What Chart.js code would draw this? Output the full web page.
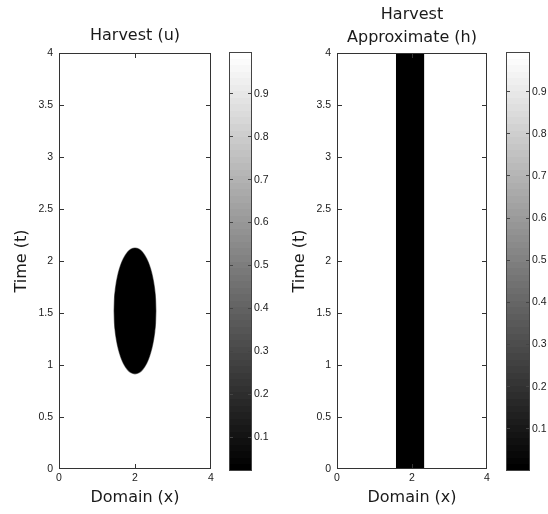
<!DOCTYPE html>
<html><head><meta charset="utf-8">
<script src="https://cdn.jsdelivr.net/npm/chart.js@4.4.1/dist/chart.umd.min.js"></script>
<style>
html,body{margin:0;padding:0;background:#fff;width:548px;height:514px;overflow:hidden;}
canvas{position:absolute;top:0;}
</style></head><body>
<canvas id="uMain" width="228" height="514" style="left:0px"></canvas>
<canvas id="uBar" width="52" height="514" style="left:222px"></canvas>
<canvas id="hMain" width="230" height="514" style="left:274px"></canvas>
<canvas id="hBar" width="48" height="514" style="left:500px"></canvas>
<script>
// ---- data ----
const domainTicks = [0, 2, 4];
const timeTicks = [0, 0.5, 1, 1.5, 2, 2.5, 3, 3.5, 4];
const colorTicks = [0.1, 0.2, 0.3, 0.4, 0.5, 0.6, 0.7, 0.8, 0.9];

// Harvest (u): black (u≈0) region boundary, lower and upper time at each x
const uEllipseX = [1.45, 1.46, 1.48, 1.50, 1.55, 1.60, 1.65, 1.70, 1.80, 1.90, 2.00, 2.10, 2.20, 2.30, 2.35, 2.40, 2.45, 2.50, 2.52, 2.54, 2.55];
const uUpperT   = [1.52, 1.635, 1.717, 1.772, 1.868, 1.935, 1.987, 2.027, 2.084, 2.115, 2.125, 2.115, 2.084, 2.027, 1.987, 1.935, 1.868, 1.772, 1.717, 1.635, 1.52];
const uLowerT   = [1.52, 1.405, 1.323, 1.268, 1.172, 1.105, 1.053, 1.013, 0.956, 0.925, 0.915, 0.925, 0.956, 1.013, 1.053, 1.105, 1.172, 1.268, 1.323, 1.405, 1.52];

// Harvest Approximate (h): black (h≈0) band over all time
const hBandX       = [1.57, 2.33];
const hBandBottomT = [0, 0];
const hBandTopT    = [4, 4];

// colour-bar limits
const uColorRange = [0.022, 0.997];
const hColorRange = [0.0, 0.994];

// ---- styling ----
const TXT = '#1a1a1a';
const tickFont = {family: 'Liberation Sans', size: 10.5, weight: 'normal', lineHeight: 1.2};
const labelFont = {family: 'DejaVu Sans', size: 16, weight: 'normal', lineHeight: 1.2};
const noGrid = {display: false, drawTicks: false, tickLength: 0};

const frameTicks = {
  id: 'frameTicks',
  afterDatasetsDraw(chart, args, opts) {
    const {ctx, chartArea: a, scales} = chart;
    const L = opts.len;
    ctx.save();
    ctx.strokeStyle = opts.color;
    ctx.lineWidth = 1;
    ctx.beginPath();
    const clampX = v => Math.min(a.right - 0.5, Math.max(a.left + 0.5, Math.floor(v) + 0.5));
    const clampY = v => Math.min(a.bottom - 0.5, Math.max(a.top + 0.5, Math.floor(v) + 0.5));
    if (opts.xTicks) {
      scales.x.ticks.forEach(t => {
        const px = clampX(scales.x.getPixelForValue(t.value));
        ctx.moveTo(px, a.bottom); ctx.lineTo(px, a.bottom - L);
        ctx.moveTo(px, a.top); ctx.lineTo(px, a.top + L);
      });
    }
    scales.y.ticks.forEach(t => {
      const py = clampY(scales.y.getPixelForValue(t.value));
      ctx.moveTo(a.left, py); ctx.lineTo(a.left + L, py);
      ctx.moveTo(a.right, py); ctx.lineTo(a.right - L, py);
    });
    ctx.stroke();
    ctx.strokeRect(a.left + 0.5, a.top + 0.5, a.right - a.left - 1, a.bottom - a.top - 1);
    ctx.restore();
  }
};

function pts(xs, ys) { return xs.map((x, i) => ({x: x, y: ys[i]})); }

function mainChart(id, datasets, titleText, titlePad, yAxisWidth, yTitlePad, rightPad) {
  return new Chart(document.getElementById(id), {
    type: 'line',
    data: {datasets: datasets},
    options: {
      responsive: false, animation: false, devicePixelRatio: 1,
      layout: {padding: {left: 0, right: rightPad, top: 0, bottom: 0}},
      elements: {point: {radius: 0}, line: {tension: 0}},
      plugins: {
        legend: {display: false}, tooltip: {enabled: false},
        title: {display: true, text: titleText, fullSize: false, color: TXT,
          font: {family: 'DejaVu Sans', size: 16, weight: 'normal', lineHeight: 1.45}, padding: titlePad},
        frameTicks: {color: '#333', len: 5, xTicks: true}
      },
      scales: {
        x: {type: 'linear', min: 0, max: 4,
          afterBuildTicks: s => { s.ticks = domainTicks.map(v => ({value: v})); },
          afterFit: s => { s.height = 45; },
          grid: noGrid, border: {display: false},
          ticks: {font: tickFont, color: TXT, padding: 3, maxRotation: 0, autoSkip: false, callback: v => String(v)},
          title: {display: true, text: 'Domain (x)', color: TXT, font: labelFont, padding: {top: 0, bottom: 6.4}}
        },
        y: {type: 'linear', min: 0, max: 4,
          afterBuildTicks: s => { s.ticks = timeTicks.map(v => ({value: v})); },
          afterFit: s => { s.width = yAxisWidth; },
          grid: noGrid, border: {display: false},
          ticks: {font: tickFont, color: TXT, padding: 6, autoSkip: false, callback: v => String(v)},
          title: {display: true, text: 'Time (t)', color: TXT, font: labelFont, padding: {top: yTitlePad, bottom: 0}}
        }
      }
    },
    plugins: [frameTicks]
  });
}

function grayGradient(c) {
  const ch = c.chart, a = ch.chartArea;
  if (!a) return '#777';
  const g = ch.ctx.createLinearGradient(0, a.bottom, 0, a.top);
  const n = 64;
  for (let k = 0; k < n; k++) {
    const v = Math.round(k / (n - 1) * 255);
    const col = 'rgb(' + v + ',' + v + ',' + v + ')';
    g.addColorStop(k / n, col);
    g.addColorStop((k + 1) / n, col);
  }
  return g;
}

function colorBar(id, range, padLeft, axisWidth) {
  return new Chart(document.getElementById(id), {
    type: 'bar',
    data: {labels: [''], datasets: [{data: [range], backgroundColor: grayGradient, borderWidth: 0,
      barPercentage: 1, categoryPercentage: 1, inflateAmount: 0}]},
    options: {
      responsive: false, animation: false, devicePixelRatio: 1,
      layout: {padding: {left: padLeft, right: 0, top: 52, bottom: 43}},
      plugins: {legend: {display: false}, tooltip: {enabled: false},
        frameTicks: {color: '#444', len: 4, xTicks: false}},
      scales: {
        x: {display: false},
        y: {position: 'right', min: range[0], max: range[1],
          afterBuildTicks: s => { s.ticks = colorTicks.map(v => ({value: v})); },
          afterFit: s => { s.width = axisWidth; },
          grid: noGrid, border: {display: false},
          ticks: {font: tickFont, color: TXT, padding: 2, autoSkip: false, callback: v => String(v)}
        }
      }
    },
    plugins: [frameTicks]
  });
}

const edge = 'rgba(0,0,0,0.5)';
mainChart('uMain', [
  {data: pts(uEllipseX, uLowerT), borderColor: edge, borderWidth: 1.2, fill: false, cubicInterpolationMode: 'monotone'},
  {data: pts(uEllipseX, uUpperT), borderColor: edge, borderWidth: 1.2, fill: '-1', backgroundColor: '#000', cubicInterpolationMode: 'monotone'}
], 'Harvest (u)', {top: 24, bottom: 5.8}, 59, 12.4, 17);

mainChart('hMain', [
  {data: pts(hBandX, hBandBottomT), borderWidth: 0, borderColor: 'rgba(0,0,0,0)', fill: false},
  {data: pts(hBandX, hBandTopT), borderWidth: 0, borderColor: 'rgba(0,0,0,0)', fill: '-1', backgroundColor: '#000'}
], ['Harvest', 'Approximate (h)'], {top: 3.4, bottom: 3.2}, 63, 16.4, 17);

colorBar('uBar', uColorRange, 7, 22);
colorBar('hBar', hColorRange, 6, 18);
</script>
</body></html>
